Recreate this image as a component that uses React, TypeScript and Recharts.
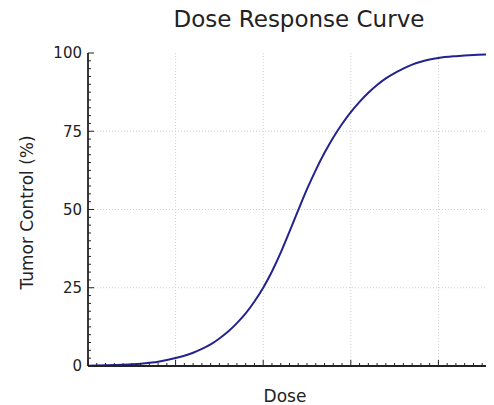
import { LineChart, Line, XAxis, YAxis, ReferenceLine } from 'recharts';

// dose (arbitrary units) vs tumor control (%)
const doses = [
  0, 0.2, 0.4, 0.6, 0.8, 0.9, 1.0, 1.1, 1.2, 1.3, 1.4, 1.5, 1.6, 1.7, 1.8, 1.9, 2.0,
  2.1, 2.2, 2.3, 2.4, 2.5, 2.6, 2.7, 2.8, 2.9, 3.0, 3.1, 3.2, 3.3, 3.4, 3.5, 3.6, 3.7, 3.8, 3.9, 4.0,
  4.2, 4.4, 4.6, 4.8, 5.0,
];
const tumorControl = [
  0.1, 0.2, 0.4, 0.75, 1.35, 1.9, 2.55, 3.3, 4.25, 5.45, 6.9, 8.8, 11.0, 13.7, 16.8, 20.6, 25,
  30.2, 36.2, 42.9, 49.8, 56.5, 62.6, 68.1, 73, 77.3, 81.1, 84.4, 87.3, 89.8, 91.9, 93.6, 95, 96.3, 97.2, 97.9, 98.4,
  99.0, 99.4, 99.6, 99.8, 99.9,
];

const xGrid = [1, 2, 3, 4];
const yGrid = [25, 50, 75];
const xMinorTicks = Array.from({ length: 51 }, (_, i) => i / 10);
const yMinorTicks = Array.from({ length: 41 }, (_, i) => i * 2.5);

const data = doses.map((d, i) => ({ dose: d, control: tumorControl[i] }));

const FONT = '"DejaVu Sans", sans-serif';
const INK = '#222';

const isWhole = (v: number, step: number) => Math.abs(v / step - Math.round(v / step)) < 1e-6;

function BottomTick({ x, y, payload }: any) {
  const len = isWhole(payload.value, 1) ? 6 : 3;
  return <line x1={x} x2={x} y1={y} y2={y - len} stroke={INK} strokeWidth={1} />;
}

function TopTick({ x, y, payload }: any) {
  const len = isWhole(payload.value, 1) ? 6 : 3;
  return <line x1={x} x2={x} y1={y} y2={y + len} stroke={INK} strokeWidth={1} />;
}

function LeftTick({ x, y, payload }: any) {
  const major = isWhole(payload.value, 25);
  return (
    <g>
      <line x1={x} x2={x + (major ? 6 : 3)} y1={y} y2={y} stroke={INK} strokeWidth={1} />
      {major && (
        <text x={x - 6} y={y} dy="0.36em" textAnchor="end" fontSize={15} fill={INK} fontFamily={FONT}>
          {payload.value}
        </text>
      )}
    </g>
  );
}

export default function App() {
  return (
    <div style={{ position: 'relative', width: 486, height: 397, fontFamily: FONT }}>
      <div style={{ position: 'absolute', left: 0, top: 0, width: 486, height: 397, overflow: 'hidden' }}>
        <LineChart width={540} height={397} data={data} margin={{ top: 45, right: 22, bottom: 0, left: 0 }}>
          <XAxis
            dataKey="dose"
            type="number"
            domain={[0, 5]}
            ticks={xMinorTicks}
            interval={0}
            tickSize={0}
            tickMargin={0}
            tick={<BottomTick />}
            height={39}
            stroke={INK}
            strokeWidth={1.8}
            label={({ viewBox }: any) => (
              <text x={viewBox.x + 197} y={viewBox.y + 36} textAnchor="middle" fontSize={17} fill={INK} fontFamily={FONT}>
                Dose
              </text>
            )}
          />
          <XAxis
            xAxisId="top"
            orientation="top"
            dataKey="dose"
            type="number"
            domain={[0, 5]}
            ticks={xMinorTicks}
            interval={0}
            tickSize={0}
            tickMargin={0}
            tick={<TopTick />}
            height={0}
            stroke={INK}
            strokeWidth={1.8}
          />
          <YAxis
            type="number"
            domain={[0, 100]}
            ticks={yMinorTicks}
            interval={0}
            tickSize={0}
            tickMargin={0}
            tick={<LeftTick />}
            width={80}
            stroke={INK}
            strokeWidth={1.8}
            label={({ viewBox }: any) => {
              const cx = viewBox.x + 19;
              const cy = viewBox.y + viewBox.height / 2 + 3;
              return (
                <text
                  x={cx}
                  y={cy}
                  transform={`rotate(-90, ${cx}, ${cy})`}
                  textAnchor="middle"
                  dominantBaseline="central"
                  fontSize={17}
                  fill={INK}
                  fontFamily={FONT}
                >
                  Tumor Control (%)
                </text>
              );
            }}
          />
          {xGrid.map((v) => (
            <ReferenceLine key={`gx${v}`} x={v} stroke="#cfcfcf" strokeDasharray="1 2" />
          ))}
          {yGrid.map((v) => (
            <ReferenceLine key={`gy${v}`} y={v} stroke="#cfcfcf" strokeDasharray="1 2" />
          ))}
          <Line
            dataKey="control"
            type="monotone"
            stroke="#23238f"
            strokeWidth={2}
            dot={false}
            activeDot={false}
            isAnimationActive={false}
          />
        </LineChart>
      </div>
      <div
        style={{
          position: 'absolute',
          left: 96,
          top: -2,
          width: 390,
          textAlign: 'center',
          fontSize: 23,
          lineHeight: 'normal',
          color: INK,
          whiteSpace: 'nowrap',
        }}
      >
        Dose Response Curve
      </div>
    </div>
  );
}
